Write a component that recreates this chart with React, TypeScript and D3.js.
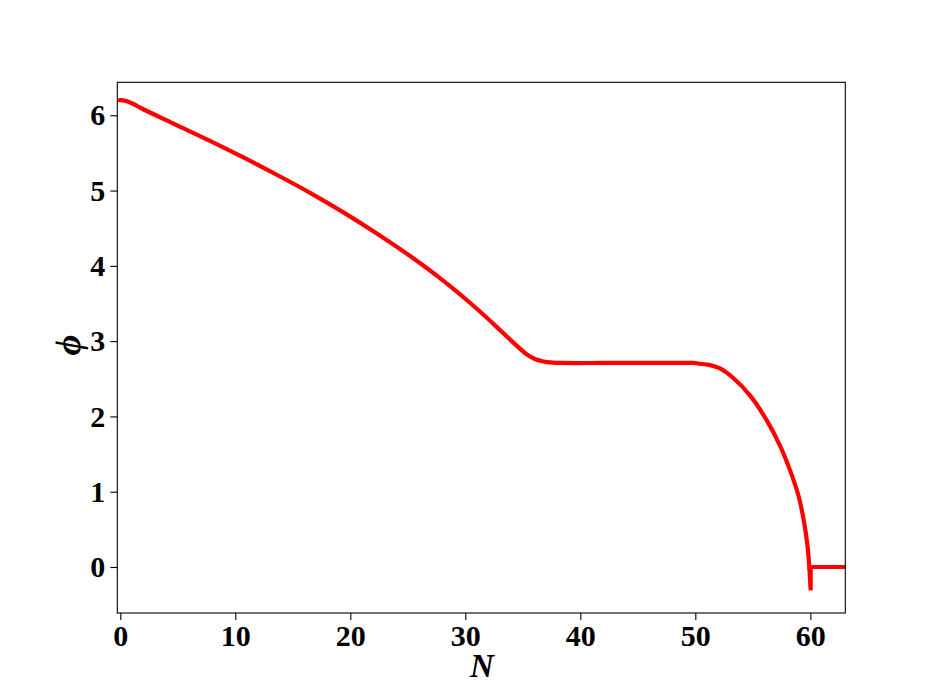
import React, {Component} from 'react'
import * as d3 from 'd3'

// inflaton field phi against e-folds N
const nValues = [
  0, 0.5, 1.0, 1.5, 2.0, 4.9, 7.8, 10.7, 13.6, 16.5, 19.4, 22.3, 25.2, 28.1,
  31.0, 33.0, 33.9, 35.3, 36.1, 36.8, 37.6, 38.5, 42, 46, 49.8, 50.4, 51.2,
  52.1, 53.3, 54.8, 56.2, 57.4, 58.2, 59.0, 59.45, 59.74, 59.91,
]
const phiValues = [
  6.2, 6.19, 6.16, 6.12, 6.08, 5.87, 5.66, 5.44, 5.21, 4.97, 4.71, 4.43, 4.13,
  3.8, 3.43, 3.15, 3.02, 2.83, 2.76, 2.73, 2.715, 2.71, 2.71, 2.71, 2.71, 2.7,
  2.685, 2.64, 2.51, 2.27, 1.95, 1.6, 1.3, 0.93, 0.6, 0.3, 0.0,
]
// end of inflation: the dip and the flat tail
const tailN = [59.91, 60.03, 60.03, 64]
const tailPhi = [0.0, -0.31, 0.0, 0.0]

const xTicks = [0, 10, 20, 30, 40, 50, 60]
const yTicks = [0, 1, 2, 3, 4, 5, 6]

type Pt = [number, number]

class PhiChart extends Component {
  node: SVGSVGElement | null = null

  componentDidMount() {
    this.createChart()
  }

  componentDidUpdate() {
    this.createChart()
  }

  createChart() {
    const width = 939
    const height = 689
    const margin = {left: 117.3, right: 939 - 845.3, top: 82.3, bottom: 689 - 613}
    const font = '"Liberation Serif", "DejaVu Serif", serif'

    const x = d3
      .scaleLinear()
      .domain([-0.26, 63.04])
      .range([margin.left, width - margin.right])
    const y = d3
      .scaleLinear()
      .domain([-0.611, 6.438])
      .range([height - margin.bottom, margin.top])

    const svg = d3.select(this.node)
    svg.selectAll('*').remove()
    svg.attr('width', width).attr('height', height)

    svg
      .append('defs')
      .append('clipPath')
      .attr('id', 'plot-clip')
      .append('rect')
      .attr('x', margin.left)
      .attr('y', margin.top)
      .attr('width', width - margin.left - margin.right)
      .attr('height', height - margin.top - margin.bottom)

    const line = d3
      .line<Pt>()
      .x((d) => x(d[0]))
      .y((d) => y(d[1]))

    const main: Pt[] = nValues.map((n, i) => [n, phiValues[i]])
    const tail: Pt[] = tailN.map((n, i) => [n, tailPhi[i]])

    const g = svg.append('g').attr('clip-path', 'url(#plot-clip)')
    g.append('path')
      .attr('d', line.curve(d3.curveCatmullRom.alpha(0.5))(main))
      .attr('fill', 'none')
      .attr('stroke', '#ff0000')
      .attr('stroke-width', 4.2)
      .attr('stroke-linecap', 'square')
    g.append('path')
      .attr('d', line.curve(d3.curveLinear)(tail))
      .attr('fill', 'none')
      .attr('stroke', '#ff0000')
      .attr('stroke-width', 4.2)
      .attr('stroke-linejoin', 'miter')

    const xAxis = svg
      .append('g')
      .attr('transform', `translate(0,${height - margin.bottom})`)
      .call(d3.axisBottom(x).tickValues(xTicks).tickSize(7).tickPadding(5).tickFormat(d3.format('d')))
    const yAxis = svg
      .append('g')
      .attr('transform', `translate(${margin.left},0)`)
      .call(d3.axisLeft(y).tickValues(yTicks).tickSize(7).tickPadding(5).tickFormat(d3.format('d')))

    for (const ax of [xAxis, yAxis]) {
      ax.select('.domain').remove()
      ax.selectAll('line').attr('stroke', '#000').attr('stroke-width', 1.1)
      ax.selectAll('text')
        .attr('fill', '#000')
        .attr('font-family', font)
        .attr('font-weight', 'bold')
        .attr('font-size', 30)
    }

    // frame
    svg
      .append('rect')
      .attr('x', margin.left)
      .attr('y', margin.top)
      .attr('width', width - margin.left - margin.right)
      .attr('height', height - margin.top - margin.bottom)
      .attr('fill', 'none')
      .attr('stroke', '#000')
      .attr('stroke-width', 1.1)

    svg
      .append('text')
      .attr('x', 482)
      .attr('y', 677)
      .attr('text-anchor', 'middle')
      .attr('font-family', font)
      .attr('font-weight', 'bold')
      .attr('font-style', 'italic')
      .attr('font-size', 33)
      .text('N')

    svg
      .append('text')
      .attr('transform', 'translate(80,345) rotate(-90)')
      .attr('text-anchor', 'middle')
      .attr('font-family', font)
      .attr('font-weight', 'bold')
      .attr('font-style', 'italic')
      .attr('font-size', 36)
      .text('\u03d5')
  }

  render() {
    return (
      <svg
        ref={(node) => {
          this.node = node
        }}
        style={{position: 'absolute', left: 0, top: 0, background: '#fff'}}
      />
    )
  }
}

export default function App() {
  return <PhiChart />
}
